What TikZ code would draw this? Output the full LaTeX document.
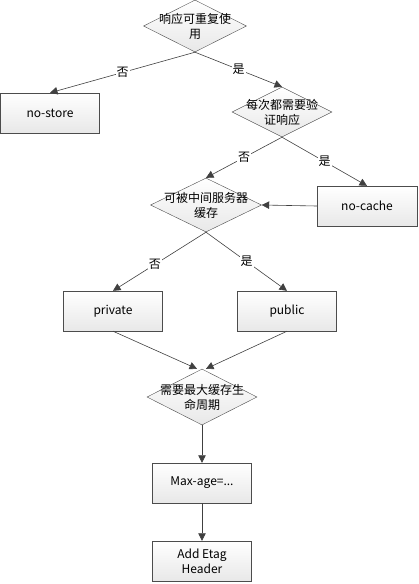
\documentclass[tikz,border=0pt]{standalone}
\usepackage{fontspec}
\setmainfont{Noto Sans CJK SC}
\usetikzlibrary{shapes.geometric,arrows.meta,calc}
\tikzset{
  decision/.style={diamond, draw=black!70, top color=white, bottom color=gray!18,
    minimum width=103pt, minimum height=52pt, inner sep=0pt,
    label={[align=center, inner sep=0pt]center:#1}},
  process/.style={rectangle, draw=black!70, top color=white, bottom color=gray!18,
    minimum width=99pt, minimum height=40pt, align=center, inner sep=2pt},
  flow/.style={-{Triangle[length=7.5pt,width=7.5pt]}, draw=black!75, line width=0.6pt},
  answer/.style={fill=white, inner sep=1pt}
}
\begin{document}
\begin{tikzpicture}[x=1pt,y=-1pt,font=\fontsize{12}{15}\selectfont]
	\useasboundingbox (0,0) rectangle (419,584);
	% decisions
	\node [decision={响应可重复使\\用}] (reuse) at (195,26) {};
	\node [decision={每次都需要验\\证响应}, minimum width=100pt, minimum height=50pt] (revalidate) at (282,112) {};
	\node [decision={可被中间服务器\\缓存}, minimum width=111pt, minimum height=54pt] (proxy) at (206,205) {};
	\node [decision={需要最大缓存生\\命周期}, minimum width=110pt, minimum height=56pt] (maxlife) at (202,397) {};
	% boxes
	\node [process] (nostore) at (50,113) {no-store};
	\node [process, minimum width=100pt] (nocache) at (367,206) {no-cache};
	\node [process] (private) at (113,311) {private};
	\node [process] (public) at (287,311) {public};
	\node [process] (maxage) at (202,483) {Max-age=...};
	\node [process] (etag) at (202,561) {Add Etag\\Header};
	% connectors
	\draw [flow] (reuse.south) -- node [answer] {否} (nostore.north);
	\draw [flow] (reuse.south) -- node [answer] {是} (revalidate.north);
	\draw [flow] (revalidate.south) -- node [answer] {否} (proxy.north);
	\draw [flow] (revalidate.south) -- node [answer] {是} (nocache.north);
	\draw [flow] (nocache.west) -- (proxy.east);
	\draw [flow] (proxy.south) -- node [answer, pos=0.55] {否} (private.north);
	\draw [flow] (proxy.south) -- node [answer] {是} (public.north);
	\draw [flow] (private.south) -- ($(maxlife.north)+(-5,0)$);
	\draw [flow] (public.south) -- ($(maxlife.north)+(4,0)$);
	\draw [flow] (maxlife) -- (maxage);
	\draw [flow] (maxage) -- (etag);
\end{tikzpicture}
\end{document}
